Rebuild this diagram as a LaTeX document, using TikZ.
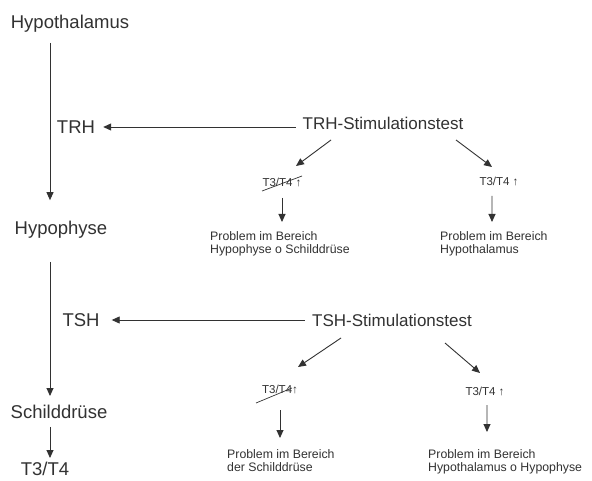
\documentclass[tikz,border=0pt]{standalone}
\usepackage{fontspec}
\setmainfont{Liberation Sans}
\usetikzlibrary{arrows.meta}
\definecolor{ink}{RGB}{50,50,50}
\begin{document}
\begin{tikzpicture}[x=1bp,y=-1bp,
  big/.style={font=\fontsize{18.5bp}{22bp}\selectfont, text=ink, inner sep=0},
  test/.style={font=\fontsize{17bp}{20bp}\selectfont, text=ink, inner sep=0},
  small/.style={font=\fontsize{12.3bp}{13.5bp}\selectfont, text=ink, inner sep=0, align=left, anchor=north west},
  lvl/.style={font=\fontsize{11.5bp}{14bp}\selectfont, text=ink, inner sep=0},
  arr/.style={draw=ink, line width=0.9bp, -{Triangle[length=8bp,width=7bp]}},
  strike/.style={draw=ink, line width=0.7bp}]
\useasboundingbox[fill=white] (0,0) rectangle (592,481);

% left column
\node[big] (hypoth) at (70,24) {Hypothalamus};
\node[big] (trh) at (76,127) {TRH};
\node[big] (hypoph) at (61,230) {Hypophyse};
\node[big] (tsh) at (81,320) {TSH};
\node[big] (schild) at (59,412) {Schilddrüse};
\node[big] (t34) at (45,469) {T3/T4};
\coordinate (vx) at (50,0);

\draw[arr, shorten <=10bp, shorten >=21bp] (hypoth.south -| vx) -- (hypoph.north -| vx);
\draw[arr, shorten <=23bp, shorten >=9bp] (hypoph.south -| vx) -- (schild.north -| vx);
\draw[arr, shorten <=8bp, shorten >=4bp] (schild.south -| vx) -- (t34.north -| vx);

% TRH test
\node[test] (trhtest) at (383,123) {TRH-Stimulationstest};
\draw[arr, shorten <=7bp, shorten >=8bp] (trhtest.west |- trh.east) -- (trh.east);
\node[lvl] (t1) at (282,183) {T3/T4 ↑};
\node[lvl] (t2) at (499,182) {T3/T4 ↑};
\draw[strike] ([shift={(-20,8)}]t1.center) -- ([shift={(20,-7)}]t1.center);
\draw[arr] ([shift={(-52,17)}]trhtest.center) -- ([shift={(14,-17)}]t1.center);
\draw[arr] ([shift={(73,17)}]trhtest.center) -- ([shift={(-7,-15)}]t2.center);
\node[small] (p1) at (210,231) {Problem im Bereich\\Hypophyse o Schilddrüse};
\node[small] (p2) at (440,231) {Problem im Bereich\\Hypothalamus};
\draw[arr] ([shift={(0,15)}]t1.center) -- ([yshift=9bp]p1.north -| t1.center);
\draw[arr] ([shift={(-7,14)}]t2.center) -- ([xshift=-7bp,yshift=9bp]p2.north -| t2.center);

% TSH test
\node[test] (tshtest) at (392,320) {TSH-Stimulationstest};
\draw[arr, shorten <=7bp, shorten >=12bp] (tshtest.west |- tsh.east) -- (tsh.east);
\node[lvl] (t3) at (280,390) {T3/T4↑};
\node[lvl] (t4) at (485,392) {T3/T4 ↑};
\draw[strike] ([shift={(-24,13)}]t3.center) -- ([shift={(12,-2)}]t3.center);
\draw[arr] ([shift={(-51,18)}]tshtest.center) -- ([shift={(18,-23)}]t3.center);
\draw[arr] ([shift={(53,23)}]tshtest.center) -- ([shift={(-5,-19)}]t4.center);
\node[small] (p3) at (227,449) {Problem im Bereich\\der Schilddrüse};
\node[small] (p4) at (428,449) {Problem im Bereich\\Hypothalamus o Hypophyse};
\draw[arr] ([shift={(0,20)}]t3.center) -- ([yshift=11bp]p3.north -| t3.center);
\draw[arr] ([shift={(2,13)}]t4.center) -- ([xshift=2bp,yshift=17bp]p4.north -| t4.center);
\end{tikzpicture}
\end{document}
